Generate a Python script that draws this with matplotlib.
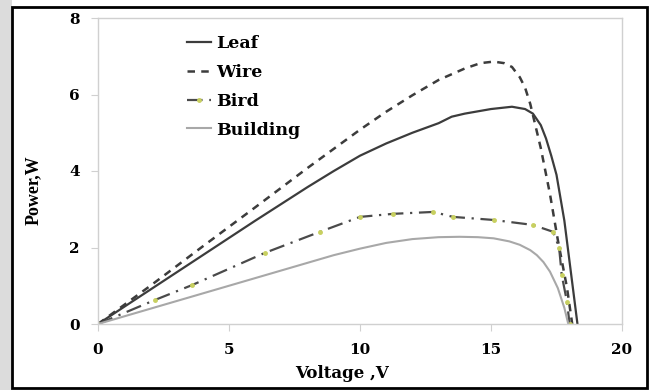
import numpy as np
import matplotlib
matplotlib.use("Agg")
import matplotlib.pyplot as plt
from matplotlib.patches import Rectangle

# values (voltage V, power W)
leaf_v = [0, 2, 4, 6, 8, 9, 10, 11, 12, 13, 13.5, 14, 15, 15.8, 16.3, 16.6, 16.9, 17.1, 17.3, 17.5, 17.8, 18.05, 18.3]
leaf_p = [0, 0.9, 1.8, 2.7, 3.58, 4.0, 4.4, 4.72, 5.0, 5.25, 5.42, 5.5, 5.62, 5.68, 5.62, 5.5, 5.2, 4.85, 4.4, 3.9, 2.7, 1.35, 0]

wire_v = [0, 2, 4, 6, 8, 10, 11, 12, 13, 14, 14.6, 15.1, 15.5, 15.8, 16.1, 16.3, 16.5, 16.9, 17.25, 17.55, 17.9, 18.1]
wire_p = [0, 1.0, 2.03, 3.05, 4.08, 5.08, 5.55, 5.98, 6.38, 6.68, 6.82, 6.86, 6.82, 6.72, 6.45, 6.18, 5.75, 4.6, 3.4, 2.2, 0.95, 0]

bird_v = [0, 2.18, 3.6, 6.37, 8.47, 10.0, 11.26, 12.8, 13.55, 15.1, 16.6, 17.37, 17.6, 17.7, 17.9, 18.0]
bird_p = [0, 0.63, 1.02, 1.86, 2.41, 2.8, 2.88, 2.93, 2.8, 2.72, 2.59, 2.41, 2.0, 1.28, 0.58, 0]

bldg_v = [0, 2, 4, 6, 8, 9, 10, 11, 12, 13, 13.8, 14.5, 15.1, 15.7, 16.1, 16.5, 16.75, 17.0, 17.25, 17.55, 17.8, 17.95]
bldg_p = [0, 0.4, 0.8, 1.2, 1.6, 1.8, 1.97, 2.12, 2.22, 2.27, 2.28, 2.27, 2.24, 2.16, 2.07, 1.93, 1.8, 1.62, 1.37, 0.94, 0.42, 0]

xticks = [0, 5, 10, 15, 20]
yticks = [0, 2, 4, 6, 8]

plt.rcParams['font.family'] = 'DejaVu Serif'
plt.rcParams['font.weight'] = 'bold'

fig = plt.figure(figsize=(6.49, 3.90), dpi=100)
# light gray strip on the left and black frame of the screenshot
fig.patches.append(Rectangle((0, 0), 12/649, 1, transform=fig.transFigure,
                             facecolor='#dcdcdc', edgecolor='none', zorder=0))
fig.patches.append(Rectangle((12/649, 2/390), 635/649, 381/390, transform=fig.transFigure,
                             facecolor='none', edgecolor='black', linewidth=2, zorder=5))

ax = fig.add_axes([98/649, 1 - 324/390, 524/649, 306/390])

ax.plot(leaf_v, leaf_p, color='#3c3c3c', lw=1.6, label='Leaf')
ax.plot(wire_v, wire_p, color='#3c3c3c', lw=1.8, ls=(0, (3, 2.5)), label='Wire')
ax.plot(bird_v, bird_p, color='#4a4a4a', lw=1.6, ls=(0, (7, 3, 1, 3)),
        marker='o', ms=2.5, mfc='#c8d060', mec='#c8d060', label='Bird')
ax.plot(bldg_v, bldg_p, color='#a8a8a8', lw=1.5, label='Building')

ax.set_xlim(0, 20)
ax.set_ylim(0, 8)
ax.set_xticks(xticks)
ax.set_yticks(yticks)
for s in ax.spines.values():
    s.set_color('#d0d0d0')
    s.set_linewidth(1.0)
ax.tick_params(axis='both', colors='#d0d0d0', labelcolor='black', length=5,
               labelsize=11)
ax.tick_params(axis='x', pad=9)
ax.tick_params(axis='y', pad=8)
for lab in ax.get_xticklabels() + ax.get_yticklabels():
    lab.set_fontweight('bold')

ax.set_xlabel('Voltage ,V', fontsize=12, fontweight='bold')
ax.xaxis.set_label_coords((342 - 98) / 524, -0.135)
ax.set_ylabel('Power,W', fontsize=13, fontweight='bold', family='Liberation Serif')
ax.yaxis.set_label_coords(-0.108, 0.438)

ax.legend(loc='upper left', bbox_to_anchor=(0.14, 0.995), frameon=False,
          handlelength=1.4, handletextpad=0.3, labelspacing=0.68,
          prop={'family': 'DejaVu Serif', 'weight': 'bold', 'size': 12.5})

fig.savefig('out.png', dpi=100)
